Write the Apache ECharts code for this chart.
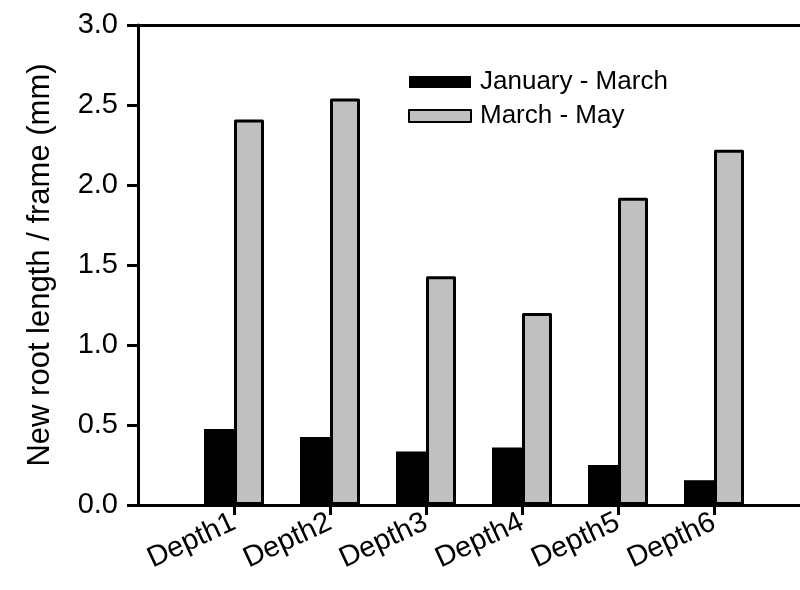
<!DOCTYPE html>
<html>
<head>
<meta charset="utf-8">
<script src="https://cdn.jsdelivr.net/npm/echarts@6/dist/echarts.min.js"></script>
<style>html,body{margin:0;padding:0;background:#fff}#c{width:800px;height:590px}</style>
</head>
<body>
<div id="c"></div>
<script>
var categories = ['Depth1', 'Depth2', 'Depth3', 'Depth4', 'Depth5', 'Depth6'];
var janMar = [0.475, 0.425, 0.335, 0.36, 0.25, 0.155];
var marMay = [2.41, 2.54, 1.43, 1.20, 1.92, 2.22];
var seriesNames = ['January - March', 'March - May'];
var yTicks = [0, 0.5, 1.0, 1.5, 2.0, 2.5, 3.0];

var positions = categories.map(function (c, i) { return i + 1; });
var FONT = 'Liberation Sans, Arial, sans-serif';

var chart = echarts.init(document.getElementById('c'), null, { renderer: 'canvas' });
chart.setOption({
  animation: false,
  backgroundColor: '#fff',
  grid: { left: 138, top: 25, right: 0, bottom: 85, containLabel: false },
  legend: {
    orient: 'vertical',
    left: 403, top: 64,
    itemWidth: 62, itemHeight: 12, itemGap: 8,
    icon: 'rect',
    textStyle: { fontFamily: FONT, fontSize: 26, color: '#000', lineHeight: 26, padding: [0, 0, 0, 4] },
    data: seriesNames
  },
  xAxis: [{
    type: 'value',
    min: 0, max: 662 / 96,
    interval: 1,
    axisLine: { show: true, onZero: false, lineStyle: { color: '#000', width: 3 } },
    axisTick: { show: true, length: 10, lineStyle: { color: '#000', width: 3 }, customValues: positions },
    axisLabel: {
      customValues: positions,
      rotate: 25, margin: 16,
      fontFamily: FONT, fontSize: 29, color: '#000',
      formatter: function (v) { var i = Math.round(v) - 1; return categories[i] || ''; }
    },
    splitLine: { show: false }
  }, {
    type: 'value', position: 'top',
    min: 0, max: 662 / 96,
    axisLine: { show: true, onZero: false, lineStyle: { color: '#000', width: 3 } },
    axisTick: { show: false }, axisLabel: { show: false }, splitLine: { show: false }
  }],
  yAxis: {
    type: 'value', min: 0, max: 3, interval: 0.5,
    name: 'New root length / frame (mm)',
    nameLocation: 'middle', nameGap: 82,
    nameTextStyle: { fontFamily: FONT, fontSize: 31, color: '#000' },
    axisLine: { show: true, lineStyle: { color: '#000', width: 3 } },
    axisTick: { show: true, length: 11, lineStyle: { color: '#000', width: 3 } },
    axisLabel: {
      margin: 20, fontFamily: FONT, fontSize: 29, color: '#000',
      formatter: function (v) { return v.toFixed(1); }
    },
    splitLine: { show: false }
  },
  series: [{
    name: seriesNames[0], type: 'bar', xAxisIndex: 0,
    barWidth: 30, barGap: '0%',
    itemStyle: { color: '#000', borderColor: '#000', borderWidth: 0 },
    data: janMar.map(function (v, i) { return [positions[i], v]; })
  }, {
    name: seriesNames[1], type: 'bar', xAxisIndex: 0,
    barWidth: 30, barGap: '0%',
    itemStyle: { color: '#c0c0c0', borderColor: '#000', borderWidth: 3, borderJoin: 'round' },
    data: marMay.map(function (v, i) { return [positions[i], v]; })
  }]
});
</script>
</body>
</html>
